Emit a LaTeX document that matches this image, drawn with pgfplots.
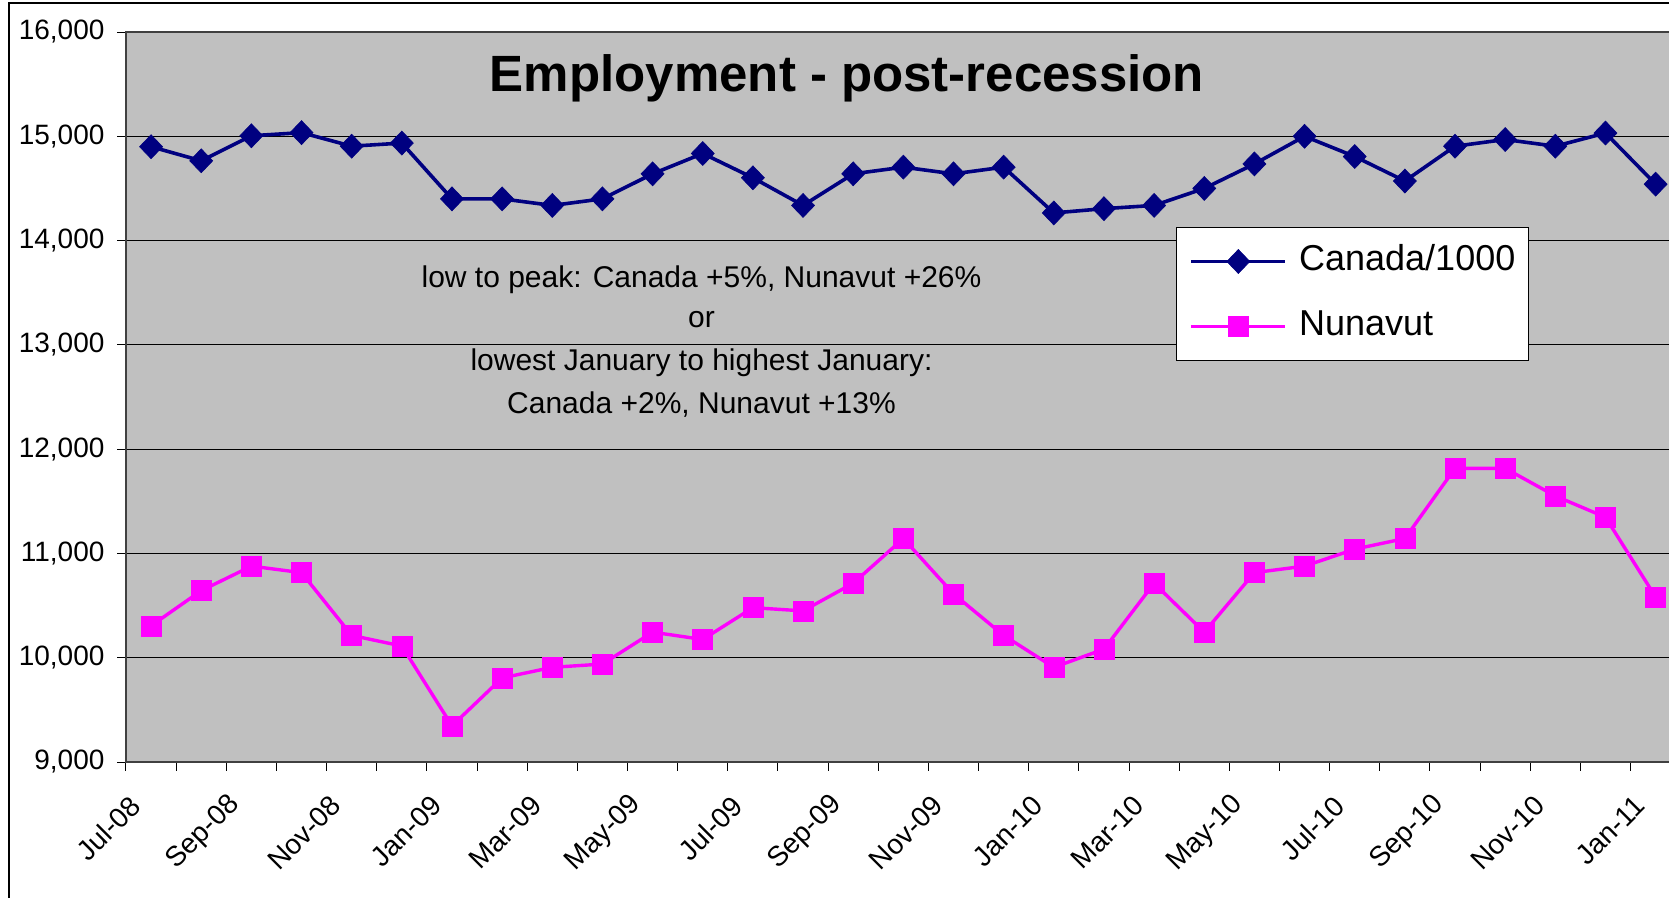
\documentclass[border=0pt]{standalone}
\usepackage{pgfplots}
\pgfplotsset{compat=1.18}
\usepackage{fontspec}
\setmainfont{Liberation Sans}
\definecolor{navy}{RGB}{0,0,128}
\definecolor{magentaA}{RGB}{255,0,255}
\definecolor{plotbg}{RGB}{192,192,192}

\pgfplotstableread{
x canada nunavut
0 14900 10306
1 14765 10643
2 15005 10878
3 15035 10816
4 14905 10214
5 14935 10112
6 14400 9347
7 14400 9806
8 14337 9908
9 14400 9939
10 14640 10245
11 14835 10175
12 14602 10480
13 14337 10449
14 14640 10714
15 14704 11143
16 14640 10612
17 14704 10214
18 14265 9908
19 14306 10082
20 14337 10714
21 14500 10245
22 14735 10816
23 15000 10878
24 14806 11041
25 14571 11143
26 14905 11816
27 14969 11816
28 14905 11551
29 15031 11347
30 14541 10582
}\datatable

\begin{document}
\begin{tikzpicture}
\begin{axis}[
  at={(63pt,-381pt)}, anchor=south west,
  scale only axis, width=777.35pt, height=365pt,
  xmin=-0.5, xmax=30.5, ymin=9000, ymax=16000,
  axis background/.style={fill=plotbg},
  axis line style={draw=black!75, line width=1pt},
  tick pos=left, tick align=outside, major tick length=4.25pt,
  tick style={black, line width=0.5pt},
  xtick={-0.5,0.5,...,30.5}, xticklabels={},
  extra x ticks={0,2,...,30},
  extra x tick style={major tick length=0pt, grid=none,
    xticklabel style={rotate=45, anchor=east, font=\fontsize{14}{14}\selectfont, xshift=-15.8pt, yshift=-8.25pt}},
  extra x tick labels={Jul-08,Sep-08,Nov-08,Jan-09,Mar-09,May-09,Jul-09,Sep-09,Nov-09,Jan-10,Mar-10,May-10,Jul-10,Sep-10,Nov-10,Jan-11},
  ytick={9000,10000,...,16000},
  ymajorgrids, grid style={black, line width=0.5pt},
  scaled y ticks=false,
  yticklabel style={font=\fontsize{14}{14}\selectfont, /pgf/number format/1000 sep={,}, xshift=-3pt},
  /pgf/number format/assume math mode=true,
  legend style={at={(0.6754,0.7329)}, anchor=north west, draw=black, line width=0.5pt, fill=white,
    font=\fontsize{18}{18}\selectfont, inner xsep=6.5pt, inner ysep=8.5pt,
    nodes={inner sep=0pt, text height=13pt, text depth=4pt},
    column sep=6pt, row sep=15.5pt},
  legend cell align=left,
  legend image code/.code={\draw[mark repeat=2,mark phase=2] plot coordinates {(0pt,0pt) (23.5pt,0pt) (47pt,0pt)};},
]
\addplot[navy, line width=1.8pt, mark=diamond*, mark size=6pt, mark options={solid, line width=0.3pt, xscale=1.28}] table[x=x, y=canada] {\datatable};
\addlegendentry{Canada/1000}
\addplot[magentaA, line width=1.7pt, mark=square*, mark size=5pt, mark options={solid, line width=0.3pt}] table[x=x, y=nunavut] {\datatable};
\addlegendentry{Nunavut}
\end{axis}
\node[anchor=base, font=\bfseries\fontsize{25.5}{25.5}\selectfont] at (423.5pt,-45.75pt) {Employment - post-recession};
\begin{scope}[every node/.style={anchor=base, font=\fontsize{15}{15}\selectfont}]
\node at (350.75pt,-143.75pt) {low to peak: Canada +5\%, Nunavut +26\%};
\node at (350.75pt,-164pt) {or};
\node at (350.75pt,-185.3pt) {lowest January to highest January:};
\node at (350.75pt,-206.5pt) {Canada +2\%, Nunavut +13\%};
\end{scope}
\draw[black, line width=1pt] (4.25pt,-1.6pt) rectangle (900pt,-520pt);
\pgfresetboundingbox
\path[use as bounding box] (0pt,0pt) rectangle (834.5pt,-449pt);
\end{tikzpicture}
\end{document}
